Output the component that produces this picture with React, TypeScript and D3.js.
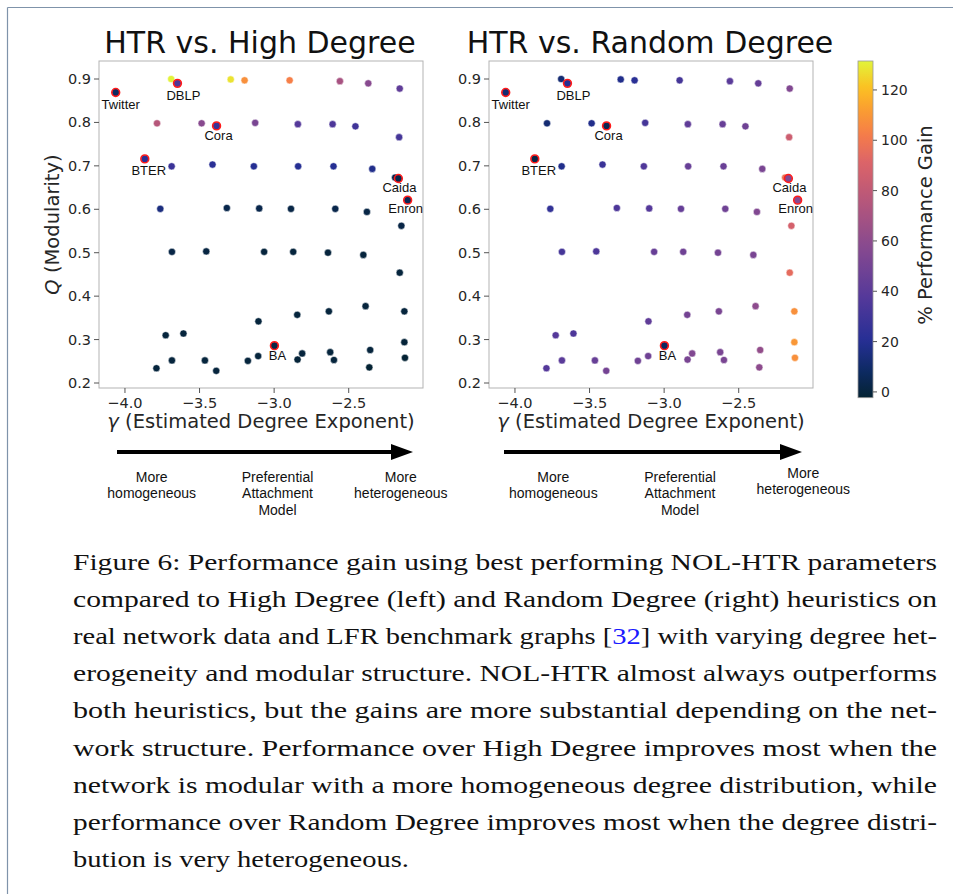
import React from "react";
import * as d3 from "d3";

// ---------- data ----------
const lfrGamma = [
  -3.690, -3.291, -3.198, -2.896, -2.559, -2.369, -2.158,
  -3.785, -3.486, -3.127, -2.841, -2.608, -2.455, -2.162,
  -3.687, -3.413, -3.136, -2.839, -2.602, -2.342, -2.189,
  -3.763, -3.317, -3.100, -2.887, -2.590, -2.378, -2.147,
  -3.685, -3.455, -3.067, -2.872, -2.639, -2.402, -2.158,
  -3.105, -2.845, -2.633, -2.387, -2.127, -3.727, -3.608, -2.127,
  -3.789, -3.685, -3.464, -3.388, -3.176, -3.107, -2.843, -2.812, -2.624, -2.599, -2.362, -2.356, -2.123,
];
const lfrQ = [
  0.900, 0.899, 0.897, 0.897, 0.895, 0.890, 0.878,
  0.798, 0.798, 0.799, 0.796, 0.796, 0.791, 0.766,
  0.699, 0.703, 0.699, 0.699, 0.699, 0.693, 0.673,
  0.601, 0.603, 0.602, 0.601, 0.601, 0.594, 0.562,
  0.502, 0.503, 0.502, 0.502, 0.500, 0.495, 0.454,
  0.342, 0.357, 0.365, 0.377, 0.365, 0.310, 0.314, 0.294,
  0.234, 0.252, 0.252, 0.228, 0.251, 0.262, 0.254, 0.268, 0.271, 0.253, 0.236, 0.276, 0.258,
];
const lfrGainHigh = [
  131, 128, 108, 103, 70, 58, 42,
  76, 58, 52, 38, 35, 30, 32,
  28, 22, 20, 20, 20, 18, 4,
  15, 3, 3, 2, 3, 2, 2,
  2, 1, 0, 0, 0, 0, 0,
  0, 0, 0, 0, 0, 0, 0, -1,
  0, 0, 0, 0, 0, 0, -1, 0, 0, 0, -2, 0, -2,
];
const lfrGainRandom = [
  12, 18, 22, 32, 40, 44, 55,
  12, 18, 32, 42, 45, 48, 85,
  18, 28, 36, 45, 46, 52, 98,
  25, 35, 38, 44, 48, 55, 88,
  32, 35, 45, 48, 50, 52, 95,
  42, 50, 52, 60, 108, 38, 35, 110,
  38, 40, 45, 50, 48, 48, 52, 55, 52, 52, 60, 62, 108,
];

const realNames = ["Twitter", "DBLP", "Cora", "BTER", "Caida", "Enron", "BA"];
const realGamma = [-4.062, -3.648, -3.386, -3.867, -2.167, -2.105, -2.998];
const realQ = [0.869, 0.890, 0.792, 0.716, 0.671, 0.621, 0.286];
const realGainHigh = [8, 35, 28, 22, 3, 5, 2];
const realGainRandom = [12, 20, 5, 2, 55, 58, 8];

const xTicks = [-4.0, -3.5, -3.0, -2.5];
const yTicks = [0.2, 0.3, 0.4, 0.5, 0.6, 0.7, 0.8, 0.9];
const cbarTicks = [0, 20, 40, 60, 80, 100, 120];
const gainMin = -2.3;
const gainMax = 131.5;

const captionLines = [
  "Figure 6: Performance gain using best performing NOL-HTR parameters",
  "compared to High Degree (left) and Random Degree (right) heuristics on",
  "real network data and LFR benchmark graphs [32] with varying degree het-",
  "erogeneity and modular structure. NOL-HTR almost always outperforms",
  "both heuristics, but the gains are more substantial depending on the net-",
  "work structure. Performance over High Degree improves most when the",
  "network is modular with a more homogeneous degree distribution, while",
  "performance over Random Degree improves most when the degree distri-",
  "bution is very heterogeneous.",
];

// ---------- layout ----------
const W = 953;
const H = 894;
const frameTop = 61;
const frameBottom = 388;
const frameW = 324;
const labelOffsets: [number, number][] = [
  [5, 17], [6, 17], [2, 14], [4, 16], [1, 13.5], [-2, 13], [3, 14.5],
];

const cmapPos = [0, 0.08, 0.17, 0.3, 0.45, 0.6, 0.7, 0.78, 0.86, 0.92, 1.0];
const cmapCols = [
  "#042333", "#0d2a63", "#262f95", "#55399a", "#884a8f", "#bb5878",
  "#dc6468", "#f57c4a", "#fba030", "#fcc022", "#e2f43a",
];
const color = d3
  .scaleLinear<string>()
  .domain(cmapPos.map((p) => gainMin + p * (gainMax - gainMin)))
  .range(cmapCols)
  .interpolate(d3.interpolateRgb)
  .clamp(true);

const SANS = "'DejaVu Sans', sans-serif";
const HELV = "'Liberation Sans', Arial, sans-serif";

type PanelProps = {
  left: number;
  title: string;
  lfrGain: number[];
  realGain: number[];
  showYLabel: boolean;
  arrow: [number, number];
  textCenters: number[];
  rightShift: number;
};

function Panel({ left, title, lfrGain, realGain, showYLabel, arrow, textCenters, rightShift }: PanelProps) {
  const x = d3.scaleLinear().domain([-4.174, -2.002]).range([left, left + frameW]);
  const y = d3.scaleLinear().domain([0.2, 0.9]).range([383, 79]);
  const fmt = (v: number) => v.toFixed(1).replace("-", "\u2212");
  const ay = 452;
  return (
    <g>
      <text x={left + frameW / 2 - 1} y={53} textAnchor="middle" fontFamily={SANS} fontSize={30} fill="#111">
        {title}
      </text>
      <rect x={left} y={frameTop} width={frameW} height={frameBottom - frameTop} fill="white" stroke="#b3b3b3" strokeWidth={1} />
      {yTicks.map((t) => (
        <g key={"y" + t}>
          <line x1={left - 5} x2={left} y1={y(t)} y2={y(t)} stroke="#555" strokeWidth={1} />
          <text x={left - 8} y={y(t) + 5} textAnchor="end" fontFamily={SANS} fontSize={14.5} fill="#262626">
            {t.toFixed(1)}
          </text>
        </g>
      ))}
      {xTicks.map((t) => (
        <g key={"x" + t}>
          <line x1={x(t)} x2={x(t)} y1={frameBottom} y2={frameBottom + 5} stroke="#555" strokeWidth={1} />
          <text x={x(t)} y={frameBottom + 20} textAnchor="middle" fontFamily={SANS} fontSize={14.5} fill="#262626">
            {fmt(t)}
          </text>
        </g>
      ))}
      <text x={left + frameW / 2} y={428} textAnchor="middle" fontFamily={SANS} fontSize={19.5} fill="#262626">
        <tspan fontStyle="italic">γ</tspan> (Estimated Degree Exponent)
      </text>
      {showYLabel && (
        <text
          transform={`translate(59, ${(frameTop + frameBottom) / 2}) rotate(-90)`}
          textAnchor="middle"
          fontFamily={SANS}
          fontSize={19.5}
          fill="#262626"
        >
          <tspan fontStyle="italic">Q</tspan> (Modularity)
        </text>
      )}
      {lfrGamma.map((g, i) => (
        <circle key={"p" + i} cx={x(g)} cy={y(lfrQ[i])} r={3.6} fill={color(lfrGain[i])} stroke="white" strokeWidth={0.5} />
      ))}
      {realGamma.map((g, i) => (
        <g key={"r" + i}>
          <circle cx={x(g)} cy={y(realQ[i])} r={3.6} fill={color(realGain[i])} />
          <circle cx={x(g)} cy={y(realQ[i])} r={3.9} fill="none" stroke="#ff1a1a" strokeWidth={1.6} />
        </g>
      ))}
      {realNames.map((n, i) => (
        <text
          key={"l" + i}
          x={x(realGamma[i]) + labelOffsets[i][0]}
          y={y(realQ[i]) + labelOffsets[i][1]}
          textAnchor="middle"
          fontFamily={HELV}
          fontSize={13}
          fill="#111"
        >
          {n}
        </text>
      ))}
      {/* arrow */}
      <line x1={left + arrow[0]} x2={left + arrow[1] - 18} y1={ay} y2={ay} stroke="black" strokeWidth={4} />
      <polygon
        points={`${left + arrow[1]},${ay} ${left + arrow[1] - 22},${ay - 8} ${left + arrow[1] - 22},${ay + 8}`}
        fill="black"
      />
      <g fontFamily={HELV} fontSize={14} fill="#111" textAnchor="middle">
        <text x={left + textCenters[0]} y={481.5}>More</text>
        <text x={left + textCenters[0]} y={498}>homogeneous</text>
        <text x={left + textCenters[1]} y={481.5}>Preferential</text>
        <text x={left + textCenters[1]} y={498}>Attachment</text>
        <text x={left + textCenters[1]} y={515}>Model</text>
        <text x={left + textCenters[2]} y={481.5 - rightShift}>More</text>
        <text x={left + textCenters[2]} y={498 - rightShift}>heterogeneous</text>
      </g>
    </g>
  );
}

function Colorbar() {
  const x0 = 858;
  const w = 15;
  const top = 61;
  const bottom = 397.7;
  const s = d3.scaleLinear().domain([gainMin, gainMax]).range([bottom, top]);
  const stops = d3.range(0, 41).map((i) => i / 40);
  return (
    <g>
      <defs>
        <linearGradient id="cbar" x1="0" y1="1" x2="0" y2="0">
          {stops.map((p) => (
            <stop key={p} offset={p} stopColor={color(gainMin + p * (gainMax - gainMin))} />
          ))}
        </linearGradient>
      </defs>
      <rect x={x0} y={top} width={w} height={bottom - top} fill="url(#cbar)" stroke="#999" strokeWidth={0.8} />
      {cbarTicks.map((t) => (
        <g key={t}>
          <line x1={x0 + w} x2={x0 + w + 4} y1={s(t)} y2={s(t)} stroke="#555" />
          <text x={x0 + w + 8} y={s(t) + 5} fontFamily={SANS} fontSize={14} fill="#262626">
            {t}
          </text>
        </g>
      ))}
      <text
        transform={`translate(932, 225) rotate(-90)`}
        textAnchor="middle"
        fontFamily={SANS}
        fontSize={19.5}
        fill="#262626"
      >
        % Performance Gain
      </text>
    </g>
  );
}

function Caption() {
  const x0 = 73;
  const fullW = 864;
  const y0 = 570;
  const lh = 37.1;
  return (
    <g fontFamily="'Liberation Serif', 'DejaVu Serif', serif" fontSize={23} fill="#111">
      {captionLines.map((line, i) => {
        const last = i === captionLines.length - 1;
        const tl = last ? 336 : fullW;
        if (line.includes("[32]")) {
          const [a, b] = line.split("[32]");
          return (
            <text key={i} x={x0} y={y0 + i * lh} textLength={tl} lengthAdjust="spacingAndGlyphs">
              {a}[<tspan fill="#1a1aff">32</tspan>]{b}
            </text>
          );
        }
        return (
          <text key={i} x={x0} y={y0 + i * lh} textLength={tl} lengthAdjust="spacingAndGlyphs">
            {line}
          </text>
        );
      })}
    </g>
  );
}

export default function App() {
  return (
    <svg
      width={W}
      height={H}
      viewBox={`0 0 ${W} ${H}`}
      style={{ position: "absolute", left: 0, top: 0, background: "white" }}
    >
      <rect x={0} y={0} width={W} height={H} fill="white" />
      <line x1={7.5} x2={W} y1={7.5} y2={7.5} stroke="#7f93aa" strokeWidth={1.2} />
      <line x1={7.5} x2={7.5} y1={7.5} y2={H} stroke="#7f93aa" strokeWidth={1.2} />
      <Panel
        left={99}
        title="HTR vs. High Degree"
        lfrGain={lfrGainHigh}
        realGain={realGainHigh}
        showYLabel={true}
        arrow={[18, 314]}
        textCenters={[52.7, 178.5, 301.8]}
        rightShift={0}
      />
      <Panel
        left={489}
        title="HTR vs. Random Degree"
        lfrGain={lfrGainRandom}
        realGain={realGainRandom}
        showYLabel={false}
        arrow={[15, 313]}
        textCenters={[64.3, 191, 314.3]}
        rightShift={4}
      />
      <Colorbar />
      <Caption />
    </svg>
  );
}
